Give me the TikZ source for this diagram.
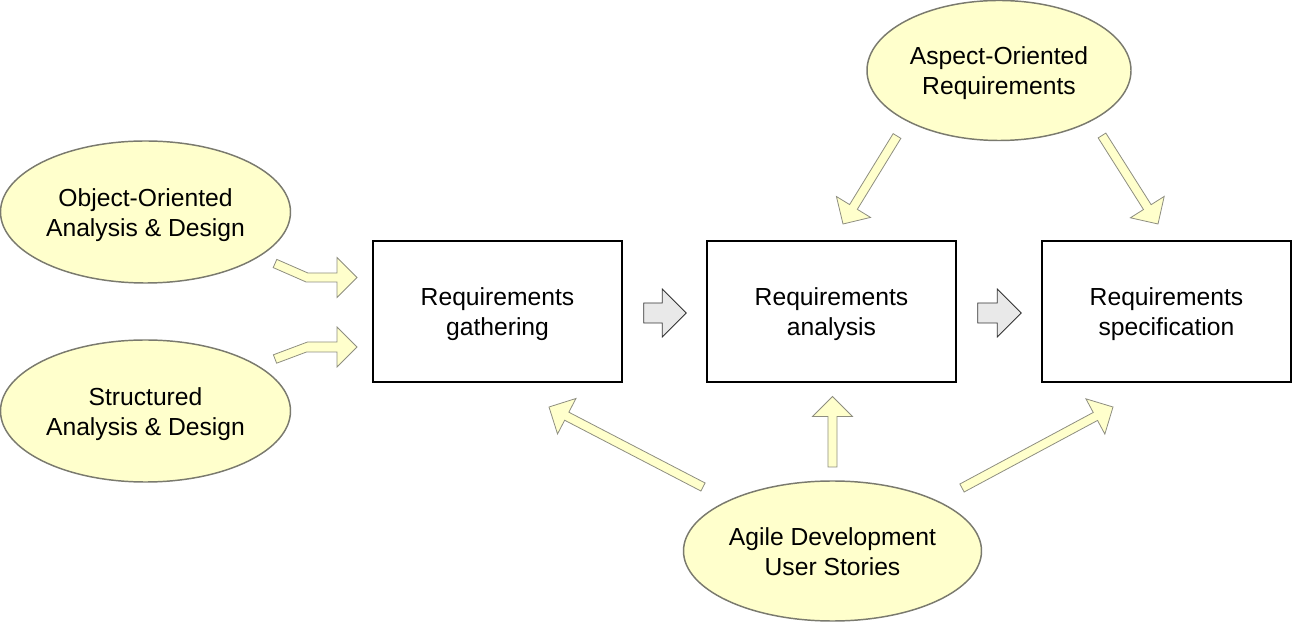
\documentclass[tikz,border=0pt]{standalone}
\usepackage{fontspec}
\setmainfont{Liberation Sans}
\usetikzlibrary{shapes.geometric,calc}

%colores
\definecolor{paleyellow}{HTML}{FFFFCC}
\definecolor{ovalline}{HTML}{7A7A6E}
\definecolor{arrowline}{HTML}{8E8E80}
\definecolor{arrowgray}{HTML}{E9E9E9}

\tikzset{
  stepbox/.style={draw=black, line width=1.1pt, minimum width=186.75pt, minimum height=105.75pt, align=center, inner sep=0pt, text height=40.5pt, text depth=4pt},
  oval/.style={ellipse, draw=ovalline, fill=paleyellow, line width=1.1pt, align=center, inner sep=0pt, text height=40.5pt, text depth=4pt},
  yellowarrow/.style={fill=paleyellow, draw=arrowline, line width=0.6pt, line join=miter},
  grayarrow/.style={fill=arrowgray, draw=black!80, line width=0.6pt, line join=miter}
}

% flecha de bloque: estilo, inicio, punta, medio ancho cuerpo, medio ancho punta
\newcommand{\blockarrow}[5]{%
  \path ($(#3)!#5!(#2)$) coordinate (hb);
  \filldraw[#1] ($(#2)!#4!90:(#3)$) -- ($(hb)!#4!90:(#3)$) -- ($(hb)!#5!90:(#3)$) -- (#3)
    -- ($(hb)!#5!-90:(#3)$) -- ($(hb)!#4!-90:(#3)$) -- ($(#2)!#4!-90:(#3)$) -- cycle;}

\begin{document}
\begin{tikzpicture}[x=0.75pt, y=-0.75pt, font=\fontsize{18.5}{22.5}\selectfont]
    \useasboundingbox (0,0) rectangle (1293,623);

    %etapas
    \node[stepbox] (gath) at (497.5,311.5) {Requirements\\gathering};
    \node[stepbox] (anal) at (831.5,311.5) {Requirements\\analysis};
    \node[stepbox] (spec) at (1166.5,311.5) {Requirements\\specification};

    %metodos
    \node[oval, minimum width=217.5pt, minimum height=106.5pt] (ooad) at (145.5,212) {Object-Oriented\\Analysis \& Design};
    \node[oval, minimum width=217.5pt, minimum height=106.5pt] (sad) at (145.5,411) {Structured\\Analysis \& Design};
    \node[oval, minimum width=198pt, minimum height=105pt] (aor) at (999,70.5) {Aspect-Oriented\\Requirements};
    \node[oval, minimum width=223.5pt, minimum height=105pt] (agile) at (832.5,551) {Agile Development\\User Stories};

    %flechas grises
    \coordinate (g1s) at ($(gath.east)+(21,1.5)$);
    \coordinate (g1t) at ($(anal.west)+(-20,1.5)$);
    \coordinate (g2s) at ($(anal.east)+(21,1.5)$);
    \coordinate (g2t) at ($(spec.west)+(-20,1.5)$);
    \blockarrow{grayarrow}{g1s}{g1t}{7.5pt}{18pt}
    \blockarrow{grayarrow}{g2s}{g2t}{7.5pt}{18pt}

    %flechas amarillas
    \coordinate (a1s) at (897,136);
    \coordinate (a1t) at (843,224);
    \coordinate (a2s) at (1102,135.5);
    \coordinate (a2t) at (1158,224);
    \coordinate (u1s) at (703,487);
    \coordinate (u1t) at (549,407);
    \coordinate (u2s) at (832.5,467);
    \coordinate (u2t) at (832.5,396.5);
    \coordinate (u3s) at (962,488);
    \coordinate (u3t) at (1113,407);
    \foreach \s/\t in {a1s/a1t, a2s/a2t, u1s/u1t, u2s/u2t, u3s/u3t}
        \blockarrow{yellowarrow}{\s}{\t}{3.4pt}{15pt};

    %flechas dobladas
    \filldraw[yellowarrow] (276.8,259.4) -- (307.9,273) -- (337,273) -- (337,257.5) -- (357,277.5)
        -- (337,297.5) -- (337,282) -- (306.1,282) -- (273.2,267.6) -- cycle;
    \filldraw[yellowarrow] (273.4,354.8) -- (307.5,342) -- (337,342) -- (337,327) -- (357,347)
        -- (337,367) -- (337,352) -- (306.5,352) -- (276.6,363.2) -- cycle;
\end{tikzpicture}
\end{document}
